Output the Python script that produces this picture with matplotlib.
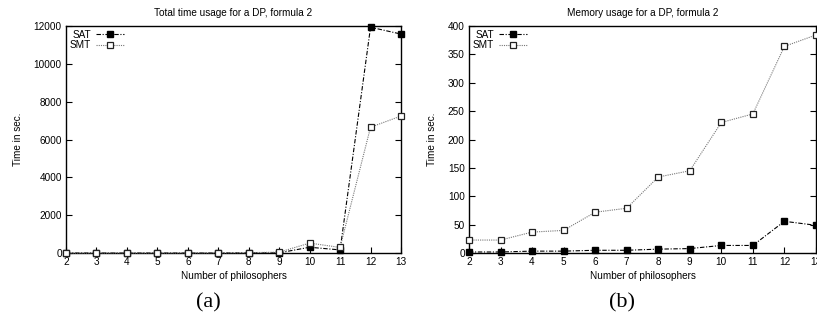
import numpy as np
import matplotlib
matplotlib.use("Agg")
import matplotlib.pyplot as plt

philosophers = [2, 3, 4, 5, 6, 7, 8, 9, 10, 11, 12, 13]

# total time usage (seconds)
time_sat = [5, 5, 5, 5, 5, 8, 10, 15, 310, 170, 11930, 11570]
time_smt = [5, 5, 8, 8, 10, 15, 25, 50, 530, 300, 6650, 7240]

# memory usage
mem_sat = [2, 2, 3.5, 3.5, 5, 5, 7, 8, 13.5, 13.5, 56, 49]
mem_smt = [23, 23, 37, 40, 72, 79, 134, 145, 230, 245, 364, 384]

titles = ["Total time usage for a DP, formula 2", "Memory usage for a DP, formula 2"]
captions = ["(a)", "(b)"]

plt.rcParams['font.family'] = ['Liberation Sans', 'DejaVu Sans']
fs = 7.2

fig = plt.figure(figsize=(8.17, 3.2), dpi=100)
ax1 = fig.add_axes([0.0808, 0.209, 0.410, 0.710])
ax2 = fig.add_axes([0.574, 0.209, 0.4247, 0.710])

panels = [
    (ax1, time_sat, time_smt, 12000, np.arange(0, 12001, 2000)),
    (ax2, mem_sat, mem_smt, 400, np.arange(0, 401, 50)),
]

for i, (ax, sat, smt, ymax, yticks) in enumerate(panels):
    ax.plot(philosophers, sat, color='black', linestyle=(0, (4, 1.5, 1, 1.5)),
            linewidth=0.8, marker='s', markersize=4.3, markerfacecolor='black',
            markeredgecolor='black', label='SAT', clip_on=False, zorder=3)
    ax.plot(philosophers, smt, color='#777777', linestyle=(0, (1, 1)),
            linewidth=0.8, marker='s', markersize=4.0, markerfacecolor='white',
            markeredgecolor='#222222', markeredgewidth=0.9, label='SMT',
            clip_on=False, zorder=3)
    ax.set_xlim(2, 13)
    ax.set_ylim(0, ymax)
    ax.set_xticks(philosophers)
    ax.set_yticks(yticks)
    ax.tick_params(direction='in', length=4, width=0.8, labelsize=fs,
                   right=True, top=False, pad=3)
    for s in ax.spines.values():
        s.set_linewidth(1.0)
    ax.set_title(titles[i], fontsize=fs, pad=7)
    ax.set_xlabel("Number of philosophers", fontsize=fs, labelpad=3)
    ax.set_ylabel("Time in sec.", fontsize=fs, labelpad=8)
    leg = ax.legend(loc='upper left', frameon=False, markerfirst=False,
                    fontsize=fs, handlelength=2.8, handletextpad=0.5,
                    borderaxespad=0.2, labelspacing=0.05, borderpad=0.2)
    for t in leg.get_texts():
        t.set_ha('right')

fig.text(208 / 817, 1 - 303 / 320, captions[0], ha='center', va='center',
         fontsize=16, family=['Liberation Serif', 'DejaVu Serif'])
fig.text(622 / 817, 1 - 303 / 320, captions[1], ha='center', va='center',
         fontsize=16, family=['Liberation Serif', 'DejaVu Serif'])

fig.savefig("out.png", dpi=100)
